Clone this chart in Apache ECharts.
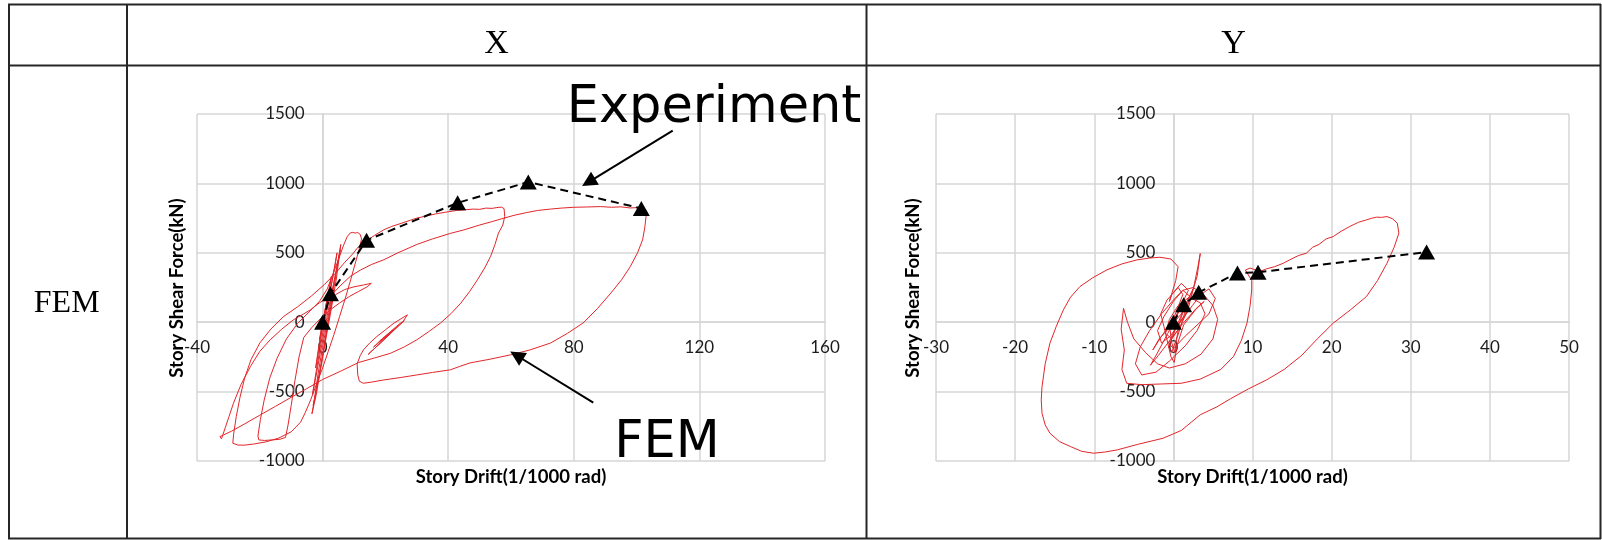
<!DOCTYPE html>
<html>
<head>
<meta charset="utf-8">
<script src="https://cdn.jsdelivr.net/npm/echarts@6/dist/echarts.min.js"></script>
<style>
html,body{margin:0;padding:0;background:#fff;}
#chart{width:1602px;height:540px;}
</style>
</head>
<body>
<div id="chart"></div>
<script>
// Row / column headings of the comparison table
const columnTitles = ['X', 'Y'];
const rowTitle = 'FEM';
const driftName = 'Story Drift(1/1000 rad)';
const forceName = 'Story Shear Force(kN)';

// Axis ranges
const xRangeX = [-40, 160, 40];
const xRangeY = [-30, 50, 10];
const forceRange = [-1000, 1500, 500];

// Experimental peak points (X direction)
const expXDrift = [0, 2.5, 14, 43, 65.5, 101.5];
const expXForce = [0, 205, 590, 860, 1010, 820];

// Experimental peak points (Y direction)
const expYDrift = [0, 1.3, 3.2, 8.1, 10.7, 32];
const expYForce = [0, 125, 215, 355, 360, 505];

// FEM hysteresis, X direction: [drift, shear force]
const femX = [
  [0,0],[0.8,90],[1.5,170],[0.6,60],[-0.4,-50],[-1,-130],[-0.3,-40],[0.9,100],[2,230],[2.8,330],[1.8,200],[0.5,30],
  [-0.8,-120],[-1.6,-230],[-2.2,-330],[-1.2,-200],[0,-40],[1.5,140],[3,300],[4,420],[4.6,500],[3.8,390],[2.5,230],[1,40],
  [-0.5,-150],[-1.8,-320],[-2.8,-460],[-3.2,-520],[-2.2,-400],[-0.8,-230],[0.6,-60],[2,110],[3.5,280],[5,450],[5.6,520],
  [4.6,400],[3,200],[1.6,20],[0,-180],[-1.5,-380],[-2.5,-540],[-3,-600],[-1.8,-470],[-0.2,-280],[1.2,-100],[2.8,100],
  [4.3,300],[5.3,470],[5.8,560],[5.2,480],[3.9,290],[2.4,80],[0.9,-120],[-0.6,-330],[-2,-520],[-3.4,-660],[-2.6,-560],
  [-1.2,-390],[0.3,-200],[1.7,0],[3,160],[4.2,200],
  [7,235],[10,255],[13,268],[15.5,280],[14.2,255],[11.5,222],[8.5,185],[5.5,140],[2.5,90],[-0.5,30],[-3.5,-40],[-6,-110],
  [-7.5,-250],[-8.8,-420],[-10,-600],[-11,-740],[-11.8,-830],[-13.5,-843],[-16,-848],[-18.5,-852],[-20.3,-848],[-20.6,-820],
  [-19.8,-700],[-18.6,-560],[-16.8,-400],[-14.5,-260],[-11.5,-120],[-8,-10],[-4,80],[-1,150],
  [1.5,240],[3.5,360],[5.2,460],[6.6,550],[7.8,615],[8.8,643],[9.6,647],[10.4,642],[11.2,646],[12,632],[12.4,600],
  [11.8,540],[10.6,440],[9,310],[7.2,170],[5.4,40],[3.6,-90],[1.8,-210],[0,-330],[-2,-450],[-3.8,-560],[-5.5,-650],[-7,-720],
  [-10,-790],[-14,-835],[-18,-862],[-22,-878],[-25,-886],[-27,-885],[-28.6,-872],[-28.3,-800],[-27.5,-680],[-26.3,-540],
  [-24.8,-400],[-22.8,-270],[-20,-150],[-16.5,-50],[-12.5,40],[-8,110],[-3.5,190],[0.5,270],[4,350],[7,430],[9.5,490],
  [11.5,546],[14,585],[16.5,625],[19.5,666],[22,690],[25,712],[28,735],[30,750],[33,765],[36,780],[39,792],[42.7,805],
  [45,809],[48,815],[50,813],[52,822],[54,820],[55.5,826],[57,829],[57.8,818],
  [58,762],[57.4,700],[56,642],[54.9,560],[53.5,474],[51.6,390],[49.3,305],[46.8,220],[44,137],[40.9,62],[37.5,-7],
  [33.8,-68],[30,-127],[26,-178],[21.6,-224],[16.5,-258],[11.5,-290],
  [6,-350],[0,-413],[-5,-478],[-10,-541],[-15,-606],[-20,-670],[-25,-735],[-29,-785],[-31.5,-812],[-32.7,-824],[-32.2,-840],
  [-31,-760],[-29.8,-680],[-28.4,-584],[-26,-450],[-23,-320],[-20,-210],[-16.7,-127],[-13,-50],[-9.3,17],[-6,60],[-3.9,89],
  [-1,140],[2.4,185],[5.5,260],[8.8,330],[12,375],[15.5,415],[19.5,450],[24,500],[30,560],[35,600],[40.7,640],[45,665],
  [50,700],[54,725],[57,745],[61,770],[65,790],[68.5,805],[72.6,815],[76,822],[80,828],[84,830],[88.6,833],[92,828],
  [95,831],[98,823],[100.5,826],[102.5,818],[103.4,790],
  [103,761],[102.6,680],[101.9,593],[100.3,500],[98,401],[95.2,305],[91.8,210],[87.6,100],[83,-5],[78,-80],[72.6,-150],
  [66,-200],[59.9,-235],[53,-268],[47,-293],[43.5,-320],[40.7,-343],[35,-362],[30,-380],[25,-398],[19.5,-416],[15.5,-432],
  [13,-440],[11.7,-425],[11.2,-380],[11,-300],[12,-240],[13,-200],[15,-150],[17.3,-103],[20,-55],[22.7,-7],[25,25],[27,53],
  [27.6,40],[25.5,0],[22.5,-60],[19.5,-125],[16.5,-190],[14.5,-232],[15.5,-210],[18.5,-150],[21.5,-85],[24.5,-20],[26,10],
  [24.3,-15],[21,-80],[18,-140],[16.2,-180],[17.5,-155],[20.5,-100],[23.5,-40],[22.5,-55],[19.8,-105],[18.2,-135],
  [19.5,-115],[21.5,-80],[20.5,-95]
];

// FEM hysteresis, Y direction: [drift, shear force]
const femY = [
  [0,0],[0.5,60],[1,120],[0.3,30],[-0.4,-60],[-0.2,-150],[0.2,-220],[0.4,-120],[0.9,20],[1.8,160],[2.5,240],[1.5,120],
  [0.2,-60],[-0.6,-180],[-0.2,-215],[0.6,-90],[1.4,60],[2.2,180],[1.2,230],[0,150],[-1.2,40],[-2,-60],[-1.5,-150],
  [-0.4,-100],[1,10],[2.4,120],[3.5,200],[4.5,240],[5.3,170],[4.5,60],[3,-20],[1.5,-100],[0,-190],[-0.6,-150],[0.4,-30],
  [1.8,80],[2.6,260],[3.1,400],[3.4,495],[3,330],[2.2,180],[1,60],[-0.5,-40],[-1.8,-120],[-2.6,-200],[-1.6,-110],[0,20],
  [1.2,200],[0.6,250],[-0.8,160],[-1.6,60],[-1.2,-30],[-0.3,-250],[0.1,-290],[0.5,-160],[1.3,-20],[2.8,90],[3.9,150],
  [2.9,100],[1.2,-10],[-0.3,-120],[-1.9,-240],[-2.9,-310],[-2.1,-230],[-0.7,-80],[0.8,100],[1.9,230],[1,280],[-0.2,200],
  [-0.5,150],[0.3,300],[0.6,400],[-0.3,455],[-1.7,468],[-3,462],[-4.6,449],[-6.5,420],[-8.4,377],[-10.2,320],[-11.8,257],
  [-13,180],[-13.9,89],[-14.8,-30],[-15.6,-151],[-16.2,-300],[-16.6,-464],[-16.7,-560],[-16.6,-656],[-16.2,-740],
  [-15.6,-800],[-14.4,-860],[-13,-896],[-11.6,-930],[-10.1,-944],[-8.6,-935],[-7.1,-920],[-4.5,-880],[-1.3,-836],[1,-780],
  [3.4,-667],[5.5,-610],[7.2,-552],[9.5,-480],[11.8,-415],[14,-340],[16.2,-240],[18.2,-120],[20.2,-7],[22.4,90],[24.4,185],
  [25.8,300],[27,425],[27.9,540],[28.5,641],[28.3,713],[27.7,745],[27,761],[26.3,755],[25.7,757],[25,748],[24.4,737],
  [23.4,720],[22.3,690],[21.2,655],[20.2,617],[19.3,600],[18.4,560],[17.6,540],[16.8,497],[15.8,480],[14.9,455],[13.9,425],
  [12.8,400],[11.8,385],[10.9,365],[10.2,380],[9.7,390],[9.1,376],
  [9.9,300],[9.9,233],[9.7,120],[9.3,-7],[8.6,-130],[7.6,-247],[6,-340],[3.4,-410],[1,-440],[-1.5,-445],[-4,-450],
  [-5.9,-440],[-6.5,-340],[-6.2,-200],[-6.6,-50],[-6.3,100],[-5.8,0],[-5,-120],
  [-3.5,-220],[-2,-300],[-0.5,-330],[1.5,-300],[3.5,-230],[5,-120],[5.6,20],[5,120],[3.8,200],[2.5,250],[1.2,230],[0,160],
  [-1.5,60],[-3,-60],[-4.2,-180],[-4.8,-300],[-4,-380],[-2.2,-360],[-0.5,-280],[1.5,-170],[3,-60],[4,60],[3.4,140],[2,180],
  [0.6,120],[-0.5,20],[-1,-80],[-0.2,-120],[0.8,-40],[1.6,60],[1,100],[0.2,30],[0,0]
];

// Callout arrows in the X panel (data coordinates: start -> head)
const expArrow = [[111.5, 1380], [84.7, 1009]];
const femArrow = [[86.2, -579], [61.8, -240]];

const zipPairs = (xs, ys) => xs.map((v, i) => [v, ys[i]]);

const chart = echarts.init(document.getElementById('chart'), null, { renderer: 'canvas' });

// Plot areas
const grids = [
  { left: 197, top: 114, width: 628, height: 347 },
  { left: 936, top: 114, width: 633, height: 347 }
];

const gridColor = '#d6d6d6';
const tickFont = { fontFamily: 'Lato', fontSize: 17, color: '#1c1c1c' };

// Axes cross at zero: shift each axis from its grid edge to the other axis' zero
function zeroShift(range, span) {
  return -span * (0 - range[0]) / (range[1] - range[0]);
}

function makeXAxis(gridIndex, range) {
  return {
    type: 'value', gridIndex, min: range[0], max: range[1], interval: range[2],
    position: 'bottom', offset: zeroShift(forceRange, grids[gridIndex].height),
    axisLine: { show: true, onZero: false, lineStyle: { color: gridColor, width: 1.5 } },
    axisTick: { show: false },
    splitLine: { show: true, lineStyle: { color: gridColor, width: 1.5 } },
    axisLabel: Object.assign({ margin: 17, formatter: v => String(v) }, tickFont)
  };
}
function makeYAxis(gridIndex, xRange) {
  return {
    type: 'value', gridIndex, min: forceRange[0], max: forceRange[1], interval: forceRange[2],
    position: 'left', offset: zeroShift(xRange, grids[gridIndex].width),
    axisLine: { show: true, onZero: false, lineStyle: { color: gridColor, width: 1.5 } },
    axisTick: { show: false },
    splitLine: { show: true, lineStyle: { color: gridColor, width: 1.5 } },
    axisLabel: Object.assign({ margin: 18, formatter: v => String(v) }, tickFont)
  };
}

function femSeries(idx, data) {
  return {
    type: 'line', xAxisIndex: idx, yAxisIndex: idx, data,
    showSymbol: false, symbol: 'none', smooth: false,
    lineStyle: { color: '#e3262b', width: 1 }, z: 2
  };
}
function expSeries(idx, data) {
  return {
    type: 'line', xAxisIndex: idx, yAxisIndex: idx, data,
    symbol: 'triangle', symbolSize: [17, 15], showSymbol: true,
    itemStyle: { color: '#000' },
    lineStyle: { color: '#000', width: 2, type: [8, 5] }, z: 4
  };
}

const lineColor = '#262626';
function hLine(y, x1, x2) {
  return { type: 'line', shape: { x1, y1: y, x2, y2: y }, style: { stroke: lineColor, lineWidth: 2 }, z: 10 };
}
function vLine(x, y1, y2) {
  return { type: 'line', shape: { x1: x, y1, x2: x, y2 }, style: { stroke: lineColor, lineWidth: 2 }, z: 10 };
}
function label(text, x, y, font, rotation) {
  return {
    type: 'text', x, y, rotation: rotation || 0, z: 11,
    style: { text, font, fill: '#000', align: 'center', verticalAlign: 'middle',
             textAlign: 'center', textVerticalAlign: 'middle' }
  };
}

const serif = '"Liberation Serif", "Times New Roman", serif';
const nameFont = 'bold 18.5px Lato';
const calloutFont = '51px "DejaVu Sans"';

chart.setOption({
  animation: false,
  backgroundColor: '#fff',
  grid: grids,
  xAxis: [ makeXAxis(0, xRangeX), makeXAxis(1, xRangeY) ],
  yAxis: [ makeYAxis(0, xRangeX), makeYAxis(1, xRangeY) ],
  series: [
    femSeries(0, femX),
    expSeries(0, zipPairs(expXDrift, expXForce)),
    femSeries(1, femY),
    expSeries(1, zipPairs(expYDrift, expYForce)),
    {
      type: 'lines', coordinateSystem: 'cartesian2d', xAxisIndex: 0, yAxisIndex: 0,
      symbol: ['none', 'triangle'], symbolSize: 15, z: 5,
      lineStyle: { color: '#000', width: 2, opacity: 1, curveness: 0 },
      data: [ { coords: expArrow }, { coords: femArrow } ]
    }
  ],
  graphic: [
    hLine(4.5, 8, 1601), hLine(65.5, 8, 1601), hLine(538.5, 8, 1601),
    vLine(9, 4, 539), vLine(127, 4, 539), vLine(866.5, 4, 539), vLine(1600.5, 4, 539),
    label(columnTitles[0], 496.5, 44, '34px ' + serif),
    label(columnTitles[1], 1233.5, 44, '34px ' + serif),
    label(rowTitle, 66.7, 304, '32px ' + serif),
    label(driftName, 511, 477, nameFont),
    label(driftName, 1252.5, 477, nameFont),
    label(forceName, 176.7, 288, nameFont, Math.PI / 2),
    label(forceName, 913.3, 288, nameFont, Math.PI / 2),
    label('Experiment', 714, 109, calloutFont),
    label('FEM', 667, 444, calloutFont)
  ]
});
</script>
</body>
</html>
